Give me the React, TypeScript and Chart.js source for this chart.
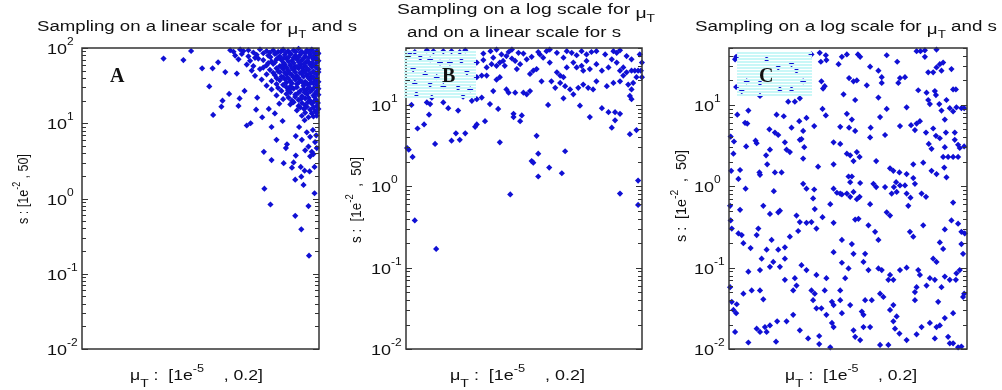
import React, { useEffect, useRef } from "react";
import { Chart, registerables } from "chart.js";
Chart.register(...registerables);

const SANS = '"Liberation Sans", Arial, Helvetica, sans-serif';
const SERIF = '"Liberation Serif", "Times New Roman", serif';

// axis ranges, in log10 units
const muLogMin = -5; // log10(1e-5)
const muLogMax = -0.699; // log10(0.2)
const sLogMin = -2; // log10(1e-2)
const sLogMaxA = 2; // log10(1e2)
const sLogMaxBC = 1.699; // log10(50)

// tick decades (labels 10^n)
const decadesA = [-2, -1, 0, 1, 2];
const decadesBC = [-2, -1, 0, 1];

// points: [log10(muT), log10(s)]
const panelA: [number, number][] = [
  [-3.52, 1.86], [-3.16, 1.84], [-3.02, 1.96], [-2.82, 1.73], [-2.63, 1.73], [-2.53, 1.81], [-2.69, 1.49], [-2.40, 1.68],
  [-2.45, 1.30], [-2.47, 1.22], [-2.62, 1.11], [-2.33, 1.39], [-2.16, 1.23], [-2.14, 1.33], [-2.19, 1.66], [-2.05, 1.43],
  [-2.01, 0.97], [-1.94, 1.00], [-1.82, 1.34], [-1.84, 1.18], [-1.73, 1.08], [-1.61, 1.19], [-1.50, 1.13], [-1.42, 1.26],
  [-1.56, 0.95], [-1.47, 0.78], [-1.36, 1.03], [-1.30, 0.67], [-1.34, 0.47], [-1.28, 0.72], [-1.70, 0.62], [-1.56, 0.51],
  [-1.12, 0.57], [-1.16, 0.48], [-1.12, 0.83], [-1.06, 0.95], [-0.96, 1.04], [-1.03, 0.42], [-1.19, 0.41], [-0.96, 0.37],
  [-1.02, 0.29], [-1.13, 0.25], [-0.87, 0.36], [-0.78, 0.42], [-0.86, 0.56], [-0.80, 0.59], [-1.69, 0.13], [-0.78, 0.07],
  [-0.98, 0.18], [-1.58, -0.08], [-0.89, -0.10], [-1.13, -0.23], [-1.02, -0.41], [-0.88, -0.76],
  [-0.74, 1.10], [-0.81, 0.91], [-0.75, 0.84], [-0.86, 0.82], [-0.77, 0.75], [-0.89, 0.69], [-0.74, 0.67], [-0.83, 0.62],
  [-0.95, 0.64], [-0.92, 0.88], [-1.01, 0.78],
  [-2.31, 1.97], [-2.25, 1.95], [-2.13, 1.98], [-2.07, 1.96], [-1.98, 1.97], [-1.89, 1.94], [-1.77, 1.98], [-1.65, 1.96],
  [-1.53, 1.97], [-1.44, 1.95], [-1.35, 1.98], [-1.26, 1.96], [-1.16, 1.97], [-1.07, 1.99], [-1.01, 1.95], [-0.92, 1.97],
  [-0.83, 1.98], [-0.74, 1.96],
  [-2.22, 1.90], [-2.10, 1.92], [-1.98, 1.89], [-1.83, 1.91], [-1.71, 1.93], [-1.62, 1.90], [-1.50, 1.92], [-1.41, 1.89],
  [-1.32, 1.91], [-1.22, 1.93], [-1.13, 1.90], [-1.04, 1.91], [-0.95, 1.89], [-0.86, 1.92], [-0.77, 1.90], [-0.71, 1.93],
  [-2.16, 1.85], [-1.95, 1.83], [-1.80, 1.86], [-1.71, 1.84], [-1.56, 1.82], [-1.47, 1.85], [-1.38, 1.84], [-1.29, 1.86],
  [-1.19, 1.83], [-1.10, 1.85], [-1.01, 1.84], [-0.92, 1.82], [-0.80, 1.85], [-0.71, 1.83],
  [-2.01, 1.78], [-1.89, 1.76], [-1.65, 1.77], [-1.53, 1.79], [-1.41, 1.76], [-1.32, 1.78], [-1.22, 1.77], [-1.13, 1.75],
  [-1.04, 1.78], [-0.95, 1.76], [-0.86, 1.78], [-0.77, 1.77],
  [-1.92, 1.70], [-1.77, 1.72], [-1.59, 1.71], [-1.44, 1.69], [-1.35, 1.72], [-1.26, 1.70], [-1.16, 1.71], [-1.07, 1.73],
  [-0.98, 1.70], [-0.89, 1.71], [-0.80, 1.69], [-0.71, 1.72],
  [-1.86, 1.63], [-1.65, 1.65], [-1.50, 1.64], [-1.38, 1.62], [-1.29, 1.65], [-1.19, 1.64], [-1.10, 1.63], [-1.01, 1.66],
  [-0.92, 1.64], [-0.83, 1.62], [-0.74, 1.65],
  [-1.74, 1.58], [-1.56, 1.56], [-1.41, 1.57], [-1.32, 1.59], [-1.22, 1.56], [-1.13, 1.58], [-1.04, 1.57], [-0.95, 1.55],
  [-0.86, 1.58], [-0.77, 1.57], [-0.71, 1.55],
  [-1.65, 1.50], [-1.47, 1.52], [-1.35, 1.51], [-1.22, 1.49], [-1.10, 1.52], [-0.98, 1.50], [-0.89, 1.51], [-0.80, 1.53],
  [-0.73, 1.50],
  [-1.56, 1.45], [-1.38, 1.43], [-1.26, 1.44], [-1.16, 1.46], [-1.04, 1.43], [-0.92, 1.45], [-0.83, 1.44], [-0.74, 1.42],
  [-1.47, 1.37], [-1.29, 1.39], [-1.13, 1.38], [-1.01, 1.36], [-0.92, 1.39], [-0.80, 1.37], [-0.71, 1.38],
  [-1.35, 1.32], [-1.19, 1.30], [-1.07, 1.31], [-0.95, 1.33], [-0.86, 1.30], [-0.75, 1.31],
  [-1.22, 1.25], [-1.07, 1.23], [-0.95, 1.24], [-0.83, 1.26], [-0.74, 1.23],
  [-1.10, 1.17], [-0.97, 1.19], [-0.86, 1.18], [-0.77, 1.16], [-0.71, 1.19],
  [-1.01, 1.10], [-0.89, 1.08], [-0.80, 1.09],
  [-1.59, 1.94], [-1.48, 1.93], [-1.39, 1.95], [-1.30, 1.94], [-1.21, 1.92], [-1.12, 1.95], [-1.03, 1.94], [-0.95, 1.93],
  [-0.88, 1.95], [-0.79, 1.94], [-0.72, 1.92],
  [-1.86, 1.87], [-1.58, 1.88], [-1.44, 1.87], [-1.35, 1.86], [-1.25, 1.88], [-1.16, 1.87], [-1.07, 1.88], [-0.98, 1.86],
  [-0.89, 1.87], [-0.82, 1.88], [-0.74, 1.86],
  [-1.62, 1.80], [-1.50, 1.81], [-1.34, 1.80], [-1.25, 1.82], [-1.16, 1.80], [-1.06, 1.81], [-0.97, 1.79], [-0.88, 1.81],
  [-0.83, 1.80], [-0.74, 1.81],
  [-1.71, 1.74], [-1.47, 1.73], [-1.38, 1.75], [-1.29, 1.74], [-1.19, 1.73], [-1.10, 1.75], [-1.01, 1.74], [-0.92, 1.73],
  [-0.83, 1.75], [-0.75, 1.74],
  [-1.53, 1.67], [-1.41, 1.68], [-1.32, 1.67], [-1.22, 1.66], [-1.13, 1.68], [-1.04, 1.67], [-0.95, 1.68], [-0.86, 1.66],
  [-0.78, 1.67], [-0.71, 1.68],
  [-1.47, 1.60], [-1.35, 1.61], [-1.26, 1.60], [-1.16, 1.61], [-1.07, 1.60], [-0.98, 1.62], [-0.89, 1.60], [-0.80, 1.61],
  [-0.74, 1.60],
  [-1.29, 1.54], [-1.19, 1.53], [-1.07, 1.54], [-1.01, 1.55], [-0.92, 1.53], [-0.84, 1.54], [-0.76, 1.53],
  [-1.44, 1.47], [-1.29, 1.48], [-1.20, 1.47], [-1.10, 1.48], [-0.98, 1.46], [-0.88, 1.48], [-0.79, 1.47], [-0.71, 1.46],
  [-1.22, 1.41], [-1.08, 1.40], [-0.96, 1.41], [-0.86, 1.42], [-0.76, 1.40],
  [-1.25, 1.34], [-1.13, 1.35], [-1.02, 1.33], [-0.89, 1.34], [-0.78, 1.35],
  [-1.16, 1.28], [-1.01, 1.27], [-0.90, 1.28], [-0.79, 1.29], [-0.72, 1.27],
  [-1.04, 1.21], [-0.92, 1.22], [-0.80, 1.21],
  [-0.95, 1.14], [-0.83, 1.13], [-0.74, 1.14],
];

const panelB: [number, number][] = [
  [-4.84, 1.65], [-4.62, 1.67], [-4.50, 1.66], [-4.32, 1.66], [-4.17, 1.66], [-4.02, 1.65], [-3.92, 1.67], [-3.59, 1.63],
  [-3.46, 1.66], [-3.35, 1.68], [-3.26, 1.62], [-3.13, 1.65], [-3.07, 1.68], [-2.95, 1.64], [-2.86, 1.63], [-2.71, 1.59],
  [-2.59, 1.65], [-2.56, 1.62], [-2.44, 1.66], [-2.38, 1.68], [-2.25, 1.64], [-2.13, 1.58], [-2.07, 1.66], [-1.98, 1.64],
  [-1.89, 1.61], [-1.80, 1.66], [-1.71, 1.62], [-1.62, 1.65], [-1.53, 1.66], [-1.37, 1.62], [-1.22, 1.66], [-1.16, 1.64],
  [-1.10, 1.67], [-0.98, 1.60], [-0.89, 1.56], [-0.74, 1.62], [-0.70, 1.52],
  [-3.71, 1.52], [-3.59, 1.55], [-3.53, 1.46], [-3.44, 1.50], [-3.41, 1.58], [-3.35, 1.48], [-3.29, 1.52], [-3.23, 1.54],
  [-3.20, 1.48], [-3.17, 1.60], [-3.07, 1.57], [-3.01, 1.54], [-2.98, 1.44], [-2.92, 1.50], [-2.80, 1.56], [-2.74, 1.38],
  [-2.68, 1.42], [-2.62, 1.44], [-2.50, 1.58], [-2.38, 1.52], [-2.25, 1.40], [-2.19, 1.36], [-2.13, 1.34], [-2.07, 1.46],
  [-1.95, 1.52], [-1.89, 1.46], [-1.80, 1.48], [-1.77, 1.42], [-1.71, 1.54], [-1.65, 1.44], [-1.53, 1.50], [-1.43, 1.42],
  [-1.31, 1.46], [-1.25, 1.56], [-1.16, 1.52], [-1.10, 1.42], [-1.04, 1.46], [-0.98, 1.40], [-0.89, 1.42], [-0.83, 1.42],
  [-0.77, 1.42], [-0.72, 1.42],
  [-3.71, 1.34], [-3.62, 1.36], [-3.53, 1.36], [-3.35, 1.31], [-3.29, 1.34], [-3.17, 1.19], [-3.13, 1.15], [-3.01, 1.15],
  [-2.86, 1.15], [-2.80, 1.13], [-2.74, 1.17], [-2.53, 1.29], [-2.35, 1.29], [-2.28, 1.21], [-2.19, 1.27], [-2.10, 1.23],
  [-2.01, 1.19], [-1.95, 1.13], [-1.86, 1.21], [-1.77, 1.25], [-1.68, 1.21], [-1.59, 1.19], [-1.53, 1.29], [-1.34, 1.23],
  [-1.22, 1.27], [-1.10, 1.29], [-1.04, 1.36], [-0.95, 1.25], [-0.89, 1.19], [-0.86, 1.27], [-0.80, 1.34], [-0.70, 1.34],
  [-0.92, 1.11], [-0.89, 1.07],
  [-4.93, 1.62], [-4.74, 1.58], [-4.56, 1.56], [-4.38, 1.52], [-4.20, 1.52], [-3.99, 1.54], [-4.87, 1.44], [-4.65, 1.38],
  [-4.44, 1.34], [-3.89, 1.40], [-4.84, 1.27], [-4.56, 1.25], [-4.32, 1.23], [-4.05, 1.21], [-3.83, 1.19], [-4.81, 1.13],
  [-4.53, 1.09], [-3.96, 1.10],
  [-4.90, 1.00], [-4.62, 1.03], [-4.56, 1.01], [-4.32, 1.03], [-4.23, 0.96], [-4.05, 0.93], [-3.80, 1.05], [-3.71, 1.07],
  [-3.62, 1.09], [-3.47, 1.01], [-3.41, 1.17], [-3.32, 0.95], [-3.04, 0.89], [-2.89, 0.87], [-3.04, 0.85], [-2.92, 0.80],
  [-2.41, 1.00], [-2.13, 1.08], [-1.83, 0.99], [-1.65, 0.85], [-1.43, 0.96], [-1.31, 0.91], [-1.19, 0.91], [-1.19, 0.81],
  [-1.25, 0.72], [-1.10, 0.89], [-0.92, 0.64], [-0.80, 0.69],
  [-4.79, 0.71], [-4.67, 0.76], [-4.58, 0.88], [-4.47, 0.52], [-4.17, 0.56], [-4.09, 0.65], [-4.02, 0.57], [-3.92, 0.65],
  [-3.74, 0.73], [-3.71, 0.76], [-3.56, 0.80], [-3.29, 0.54], [-2.62, 0.62], [-2.59, 0.40], [-2.71, 0.31], [-2.68, 0.29],
  [-2.39, 0.23], [-2.59, 0.12], [-2.16, 0.16], [-2.10, 0.43], [-4.98, 0.47], [-4.95, 0.45], [-4.88, 0.36], [-3.10, -0.10],
  [-1.10, -0.09], [-0.77, 0.07],
  [-4.84, -0.42], [-4.45, -0.77], [-0.77, -0.23],
];

const panelC: [number, number][] = [
  [-4.87, 1.59], [-4.87, 1.22], [-4.85, 0.88], [-4.65, 0.93], [-4.71, 0.78], [-4.67, 0.77], [-4.97, 0.61], [-4.91, 0.55],
  [-4.69, 0.49], [-4.52, 0.56], [-4.50, 0.53], [-4.92, 0.40], [-4.96, 0.19], [-4.80, 0.20], [-4.83, 0.09], [-4.70, -0.03],
  [-4.45, 0.17], [-4.44, 0.14], [-4.31, 0.27], [-4.33, 0.38], [-4.26, 0.45], [-4.27, 0.70], [-4.17, 0.66], [-4.14, 0.88],
  [-4.01, 0.86], [-4.11, 0.63], [-4.17, 0.17], [-4.05, 0.17], [-4.19, -0.06], [-3.96, 0.45], [-3.90, 0.42], [-3.87, 0.72],
  [-3.99, 0.54], [-3.93, 1.04], [-3.81, 1.04], [-3.73, 0.80], [-3.72, 0.57], [-3.69, 0.58], [-3.64, 0.48], [-3.72, 1.08],
  [-3.66, 0.68], [-3.66, 0.34], [-3.60, 0.84], [-3.51, 1.62], [-3.46, 0.74], [-3.39, 0.24], [-3.66, 0.03], [-3.60, -0.03],
  [-3.46, -0.04], [-3.31, 0.95], [-3.25, 0.87], [-3.33, 1.29], [-3.30, 1.20], [-3.27, 1.23], [-3.34, 1.53], [-3.24, 1.55],
  [-3.36, 1.64], [-3.25, 1.61], [-3.02, 1.50], [-2.96, 1.59], [-2.87, 1.62], [-2.93, 1.13], [-2.87, 0.89], [-2.78, 0.82],
  [-2.72, 1.06], [-2.99, 0.73], [-2.83, 0.72], [-3.11, 0.54], [-2.99, 0.52], [-3.11, 0.27], [-2.87, 0.40], [-2.81, 0.38],
  [-2.69, 0.42], [-2.75, 0.31], [-2.64, 0.36], [-2.72, 0.68], [-2.84, 0.12], [-2.78, 0.12], [-2.81, 0.05], [-2.63, 0.04],
  [-3.11, -0.03], [-3.05, -0.08], [-2.96, -0.10], [-2.81, -0.13], [-2.69, -0.16], [-2.83, 1.33], [-2.75, 1.29], [-2.69, 1.30],
  [-2.67, 1.62], [-2.63, 1.59], [-2.51, 1.24], [-2.45, 1.47], [-2.30, 1.42], [-2.24, 1.34], [-2.24, 1.27], [-2.30, 1.09],
  [-2.45, 0.60], [-2.44, 0.72], [-2.27, 0.85], [-2.18, 0.63], [-2.15, 0.95], [-2.15, 1.61], [-1.96, 1.53], [-1.91, 1.33],
  [-1.82, 1.34], [-1.94, 1.27], [-1.91, 0.74], [-1.71, 0.75], [-1.64, 0.69], [-1.61, 0.77], [-1.55, 0.80], [-1.79, 0.97],
  [-1.58, 1.18], [-1.43, 1.15], [-1.40, 1.06], [-1.37, 1.01], [-1.28, 1.17], [-1.26, 1.12], [-1.20, 1.01], [-1.16, 0.93],
  [-1.07, 1.06], [-1.01, 0.96], [-1.10, 0.82], [-1.08, 0.66], [-1.31, 0.71], [-1.26, 0.62], [-1.44, 0.66], [-1.39, 0.52],
  [-1.34, 0.46], [-1.19, 0.59], [-0.95, 0.92], [-0.89, 0.97], [-0.80, 0.96], [-0.75, 0.96], [-0.92, 0.66], [-0.92, 0.57],
  [-0.86, 0.51], [-0.75, 0.49], [-0.86, 0.36], [-0.95, 0.36], [-1.13, 0.36], [-1.07, 0.11], [-1.25, 0.15], [-1.34, 0.19],
  [-1.49, 0.29], [-1.67, 0.27], [-1.79, 0.15], [-1.67, 0.10], [-1.64, 0.03], [-1.82, 0.01], [-1.91, 0.01], [-1.98, 0.05],
  [-2.02, -0.01], [-2.09, 0.22], [-2.03, 0.19], [-2.34, 0.31], [-2.39, 0.03], [-2.34, -0.01], [-2.18, -0.01], [-1.79, -0.09],
  [-1.52, -0.09], [-2.06, -0.09], [-1.61, 1.66], [-1.54, 1.66], [-1.46, 1.67], [-1.25, 1.68], [-1.46, 1.59], [-1.40, 1.40],
  [-1.31, 1.40], [-1.25, 1.46], [-1.19, 1.50], [-1.13, 1.52], [-1.16, 1.42], [-0.98, 1.44], [-0.95, 1.19], [-0.90, 1.19],
  [-1.92, 0.17], [-1.10, 0.48], [-1.04, 0.36], [-0.83, 0.47], [-1.11, 0.23],
  [-4.68, 1.29], [-4.44, 1.27], [-4.32, 1.56], [-4.11, 1.46], [-3.87, 1.50], [-3.78, 1.42], [-3.66, 1.29], [-4.08, 1.19],
  [-3.87, 1.19], [-4.44, 1.11], [-4.77, 1.17], [-4.89, 1.56],
  [-4.98, -0.24], [-4.80, -0.29], [-4.97, -0.42], [-4.95, -0.52], [-4.83, -0.58], [-4.77, -0.60], [-4.74, -0.70], [-4.61, -0.76],
  [-4.47, -0.52], [-4.50, -0.60], [-4.38, -0.24], [-4.26, -0.34], [-4.23, -0.66], [-4.11, -0.32], [-4.08, -0.30], [-4.41, -0.89],
  [-4.65, -1.05], [-4.44, -1.03], [-4.32, -0.78], [-4.11, -0.78], [-3.99, -0.75], [-3.90, -0.62], [-3.75, -0.55], [-3.72, -0.44],
  [-3.78, -0.36], [-3.60, -0.45], [-3.51, -0.44], [-3.48, -0.15], [-3.45, -0.28], [-3.42, -0.52], [-3.31, -0.38], [-3.17, -0.22],
  [-3.11, -0.45], [-2.99, -0.09], [-2.96, -0.66], [-2.87, -0.09], [-2.75, -0.07], [-2.64, -0.13], [-2.45, -0.22], [-3.11, -0.81],
  [-2.96, -0.94], [-2.78, -0.71], [-2.72, -0.41], [-2.66, -0.40], [-2.48, -0.48], [-2.36, -0.56], [-2.30, -0.66], [-2.15, -0.32],
  [-2.09, -0.36], [-1.97, -0.07], [-1.76, -0.24], [-1.72, -0.14], [-1.44, -0.13], [-1.49, -0.48], [-1.73, -0.56], [-1.67, -0.62],
  [-1.19, -0.69], [-1.13, -0.77], [-1.10, -0.53], [-0.95, -0.20], [-0.98, -0.42], [-0.86, -0.46], [-0.80, -0.56], [-0.74, -0.58],
  [-0.80, -0.71], [-0.77, -0.83], [-0.83, -1.03], [-0.89, -1.07], [-1.31, -0.89], [-1.25, -0.93], [-1.58, -1.03], [-1.55, -1.09],
  [-1.37, -1.13], [-1.28, -1.15], [-1.16, -1.24], [-1.10, -1.11], [-1.43, -1.22], [-1.79, -1.00], [-1.91, -1.03], [-2.03, -1.15],
  [-2.12, -1.15], [-2.09, -1.09], [-2.24, -1.03], [-2.30, -1.01], [-2.48, -1.03], [-2.57, -0.93], [-2.54, -0.83], [-2.75, -0.83],
  [-2.84, -1.01], [-2.90, -1.13], [-2.99, -1.28], [-3.24, -1.13], [-3.27, -1.28], [-3.42, -1.09], [-3.51, -1.28], [-3.60, -1.03],
  [-3.69, -0.97], [-3.81, -1.13], [-3.78, -1.22], [-3.84, -1.28], [-3.99, -1.15], [-4.08, -0.99], [-3.99, -0.89], [-4.20, -0.93],
  [-4.26, -0.99], [-4.44, -1.28], [-4.38, -1.39], [-4.59, -1.28], [-4.74, -1.32], [-4.86, -1.45], [-4.98, -1.24], [-4.95, -1.42],
  [-4.92, -1.52], [-4.87, -1.56], [-4.89, -1.79], [-4.65, -1.92], [-4.50, -1.75], [-4.44, -1.79], [-4.35, -1.73], [-4.32, -1.79],
  [-4.26, -1.71], [-4.13, -1.66], [-3.96, -1.66], [-3.84, -1.58], [-4.15, -1.91], [-3.72, -1.77], [-3.57, -1.87], [-3.37, -1.84],
  [-3.37, -1.94], [-3.17, -1.98], [-3.14, -1.68], [-3.11, -1.73], [-2.96, -1.56], [-3.24, -1.58], [-3.33, -1.50], [-3.42, -1.50],
  [-3.48, -1.40], [-3.45, -1.32], [-3.14, -1.42], [-3.11, -1.46], [-2.99, -1.40], [-2.81, -1.46], [-2.60, -1.54], [-2.57, -1.58],
  [-2.54, -1.40], [-2.42, -1.40], [-2.57, -1.73], [-2.45, -1.73], [-2.75, -1.77], [-2.72, -1.85], [-2.63, -1.89], [-2.27, -1.95],
  [-2.12, -1.95], [-2.00, -1.75], [-1.92, -1.81], [-1.79, -1.89], [-1.97, -1.60], [-2.03, -1.46], [-2.27, -1.32], [-2.21, -1.36],
  [-2.09, -1.52], [-2.03, -1.66], [-1.61, -1.82], [-1.52, -1.73], [-1.37, -1.68], [-1.19, -1.71], [-1.28, -1.87], [-1.04, -1.85],
  [-1.01, -1.93], [-0.95, -1.93], [-0.86, -1.98], [-0.80, -1.97], [-1.10, -1.62], [-1.22, -1.42], [-0.95, -1.56], [-0.77, -1.36],
  [-0.75, -1.32], [-1.64, -1.40], [-1.64, -1.30], [-1.61, -1.24], [-1.01, -1.15], [-0.90, -1.15], [-1.25, -1.73],
];

type Seg = { t: string; size: number; dy?: number };

const titleA: Seg[] = [
  { t: "Sampling on a linear scale for ", size: 14 },
  { t: "\u03bc", size: 14, dy: 3 },
  { t: "T", size: 10, dy: 6.5 },
  { t: " and s", size: 14 },
];
const titleB1: Seg[] = [
  { t: "Sampling on a log scale for ", size: 14 },
  { t: "\u03bc", size: 14, dy: 4 },
  { t: "T", size: 10, dy: 8 },
];
const titleB2: Seg[] = [{ t: "and on a linear scale for s", size: 14 }];
const titleC: Seg[] = [
  { t: "Sampling on a log scale for ", size: 14 },
  { t: "\u03bc", size: 14, dy: 3 },
  { t: "T", size: 10, dy: 6.5 },
  { t: " and s", size: 14 },
];
const xLabel: Seg[] = [
  { t: "\u03bc", size: 14 },
  { t: "T", size: 11, dy: 7 },
  { t: " :  [1e", size: 14 },
  { t: "-5", size: 10, dy: -8 },
  { t: "    , 0.2]", size: 14 },
];
const yLabelA: Seg[] = [
  { t: "s : [1e", size: 14 },
  { t: "-2", size: 10, dy: -8 },
  { t: " , 50]", size: 14 },
];
const yLabelBC: Seg[] = [
  { t: "s :  [1e", size: 14 },
  { t: "-2", size: 10, dy: -8 },
  { t: "  ,  50]", size: 14 },
];

type TextLine = { segs: Seg[]; x: number; y: number; w: number };
type PanelCfg = {
  left: number;
  width: number;
  pad: { left: number; right: number; top: number; bottom: number };
  points: [number, number][];
  yMax: number;
  decades: number[];
  titles: TextLine[];
  xTitle: TextLine;
  yTitle: { segs: Seg[]; bx: number; cy: number; len: number };
  letter: { t: string; x: number; y: number };
  box?: [number, number, number, number];
};

const panels: PanelCfg[] = [
  {
    left: 0,
    width: 362,
    pad: { left: 82, right: 43, top: 48, bottom: 41 },
    points: panelA,
    yMax: sLogMaxA,
    decades: decadesA,
    titles: [{ segs: titleA, x: 37, y: 31, w: 320 }],
    xTitle: { segs: xLabel, x: 130, y: 380, w: 133 },
    yTitle: { segs: yLabelA, bx: 28, cy: 189, len: 70 },
    letter: { t: "A", x: 110, y: 82 },
  },
  {
    left: 340,
    width: 328,
    pad: { left: 66, right: 26, top: 48, bottom: 41 },
    points: panelB,
    yMax: sLogMaxBC,
    decades: decadesBC,
    titles: [
      { segs: titleB1, x: 397, y: 14, w: 258 },
      { segs: titleB2, x: 407, y: 37, w: 214 },
    ],
    xTitle: { segs: xLabel, x: 450, y: 380, w: 135 },
    yTitle: { segs: yLabelBC, bx: 361, cy: 200, len: 86 },
    letter: { t: "B", x: 442, y: 82 },
    box: [404, 51, 476, 97],
  },
  {
    left: 668,
    width: 334,
    pad: { left: 61, right: 35, top: 48, bottom: 41 },
    points: panelC,
    yMax: sLogMaxBC,
    decades: decadesBC,
    titles: [{ segs: titleC, x: 695, y: 31, w: 302 }],
    xTitle: { segs: xLabel, x: 785, y: 380, w: 132 },
    yTitle: { segs: yLabelBC, bx: 686, cy: 196, len: 92 },
    letter: { t: "C", x: 759, y: 82 },
    box: [737, 52, 812, 97],
  },
];

function drawRich(
  ctx: CanvasRenderingContext2D,
  segs: Seg[],
  x: number,
  y: number,
  opts: { w?: number; sx?: number; rot?: boolean }
) {
  ctx.save();
  const widths = segs.map((s) => {
    ctx.font = `${s.size}px ${SANS}`;
    return ctx.measureText(s.t).width;
  });
  const total = widths.reduce((a, b) => a + b, 0);
  const sx = opts.w ? opts.w / total : opts.sx || 1;
  ctx.translate(x, y);
  if (opts.rot) ctx.rotate(-Math.PI / 2);
  ctx.scale(sx, 1);
  ctx.fillStyle = "#111";
  ctx.textBaseline = "alphabetic";
  ctx.textAlign = "left";
  let cx = 0;
  segs.forEach((s, i) => {
    ctx.font = `${s.size}px ${SANS}`;
    ctx.fillText(s.t, cx, s.dy || 0);
    cx += widths[i];
  });
  ctx.restore();
}

function makePlugin(cfg: PanelCfg) {
  return {
    id: "panelDecor",
    afterDraw(chart: any) {
      const ctx: CanvasRenderingContext2D = chart.ctx;
      const { left, right, top, bottom } = chart.chartArea;
      const ys = chart.scales.y;
      const off = cfg.left;
      ctx.save();
      // frame
      ctx.strokeStyle = "#333";
      ctx.lineWidth = 1.5;
      ctx.strokeRect(left, top, right - left, bottom - top);
      // inward ticks on left & right
      ctx.lineWidth = 1;
      ctx.strokeStyle = "#333";
      cfg.decades.forEach((n) => {
        for (let k = 1; k <= 9; k++) {
          const v = n + Math.log10(k);
          if (v > cfg.yMax + 1e-6) break;
          const py = Math.round(ys.getPixelForValue(v)) + 0.5;
          const len = k === 1 ? 6 : 4;
          ctx.beginPath();
          ctx.moveTo(left, py);
          ctx.lineTo(left + len, py);
          ctx.moveTo(right, py);
          ctx.lineTo(right - len, py);
          ctx.stroke();
        }
      });
      // label box
      if (cfg.box) {
        const [x0, y0, x1, y1] = cfg.box;
        ctx.fillStyle = "#c9f7f7";
        for (let yy = y0; yy < y1; yy += 3) {
          ctx.fillRect(x0 - off, yy, x1 - x0, 2);
        }
      }
      // panel letter
      ctx.fillStyle = "#111";
      ctx.font = `bold 20px ${SERIF}`;
      ctx.textAlign = "left";
      ctx.textBaseline = "alphabetic";
      ctx.fillText(cfg.letter.t, cfg.letter.x - off, cfg.letter.y);
      ctx.restore();

      // y tick labels
      cfg.decades.forEach((n) => {
        const py = ys.getPixelForValue(n);
        drawRich(
          ctx,
          [
            { t: "10", size: 15 },
            { t: String(n), size: 10, dy: -9 },
          ],
          left - 35,
          py + 6,
          { sx: 1.2 }
        );
      });
      // titles
      cfg.titles.forEach((tl) => drawRich(ctx, tl.segs, tl.x - off, tl.y, { w: tl.w }));
      drawRich(ctx, cfg.xTitle.segs, cfg.xTitle.x - off, cfg.xTitle.y, { w: cfg.xTitle.w });
      const yt = cfg.yTitle;
      drawRich(ctx, yt.segs, yt.bx - off, yt.cy + yt.len / 2, { w: yt.len, rot: true });
    },
  };
}

function Panel({ cfg }: { cfg: PanelCfg }) {
  const ref = useRef<HTMLCanvasElement | null>(null);
  useEffect(() => {
    if (!ref.current) return;
    const chart = new Chart(ref.current, {
      type: "scatter",
      data: {
        datasets: [
          {
            data: cfg.points.map(([x, y]) => ({ x, y })),
            pointStyle: "rectRot",
            pointRadius: 3.1,
            pointBorderWidth: 0,
            backgroundColor: "#1010d4",
            borderColor: "#1010d4",
            clip: 3,
          } as any,
        ],
      },
      options: {
        animation: false,
        responsive: false,
        devicePixelRatio: 1,
        events: [],
        layout: { padding: cfg.pad },
        plugins: {
          legend: { display: false },
          tooltip: { enabled: false },
          title: { display: false },
        },
        scales: {
          x: { type: "linear", min: muLogMin, max: muLogMax, display: false },
          y: { type: "linear", min: sLogMin, max: cfg.yMax, display: false },
        },
      },
      plugins: [makePlugin(cfg)],
    } as any);
    return () => chart.destroy();
  }, [cfg]);
  return (
    <canvas
      ref={ref}
      width={cfg.width}
      height={390}
      style={{ position: "absolute", left: cfg.left, top: 0, width: cfg.width, height: 390 }}
    />
  );
}

export default function App() {
  return (
    <div
      style={{
        position: "fixed",
        left: 0,
        top: 0,
        width: 1002,
        height: 390,
        background: "#fff",
        overflow: "hidden",
      }}
    >
      {panels.map((p, i) => (
        <Panel key={i} cfg={p} />
      ))}
    </div>
  );
}
